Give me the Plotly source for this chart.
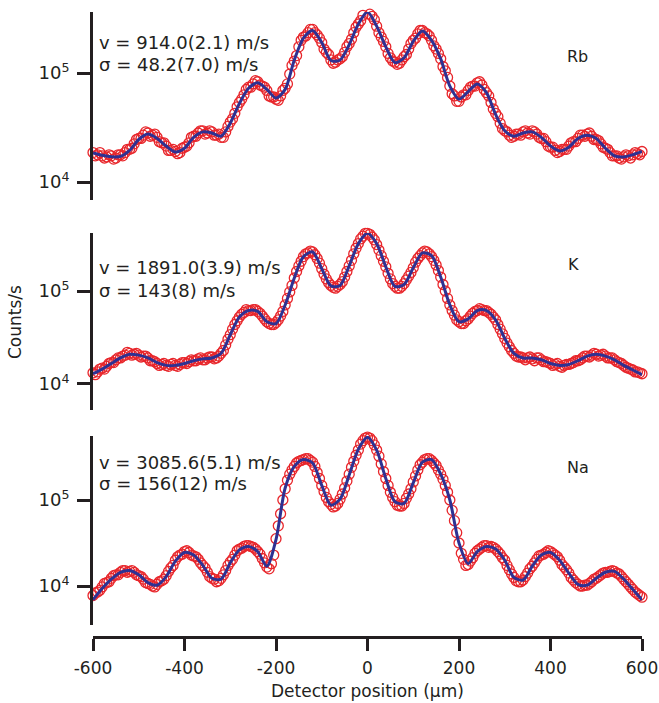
import plotly.graph_objects as go

# ---------------- data ----------------
x_data = list(range(-600, 601, 10))      # scan 1 positions (um)
x_data2 = list(range(-595, 596, 10))     # scan 2 positions (um)
x_fit = list(range(-600, 601, 20))       # fit curve positions (um)

rb_data = [18620, 17780, 17380, 16980, 17380, 16600, 17780, 18620, 19950, 22390,
           25120, 26920, 28180, 26920, 25700, 22910, 21380, 19500, 19050, 18620,
           20890, 22910, 26300, 28180, 29510, 28180, 28840, 26920, 25700, 28840,
           35480, 42660, 53700, 63100, 74130, 79430, 83180, 75860, 69180, 60260,
           57540, 61660, 72440, 97720, 128800, 173800, 213800, 234400, 251200, 223900,
           190500, 154900, 131800, 125900, 134900, 154900, 186200, 234400, 281800, 338800,
           363100, 331100, 269200, 213800, 173800, 138000, 125900, 123000, 141300, 166000,
           199500, 229100, 245500, 229100, 199500, 166000, 134900, 104700, 75860, 61660,
           54950, 63100, 69180, 75860, 81280, 77620, 66070, 53700, 42660, 34670,
           29510, 26920, 26300, 27540, 28840, 28180, 29510, 27540, 25120, 23440,
           20890, 19500, 19050, 19950, 21380, 23440, 25120, 26920, 27540, 26300,
           24550, 22390, 20420, 18620, 17380, 16600, 16980, 17380, 17780, 18200, 19050]
rb_data2 = [17380, 18620, 16600, 17780, 16220, 17780, 17380, 19950, 20420, 24550,
            25120, 28840, 26300, 27540, 23440, 22910, 19500, 19950, 18200, 20420,
            21380, 25700, 26300, 29510, 27540, 29510, 26920, 27540, 25700, 32360,
            38020, 48980, 57540, 70790, 74130, 85110, 77620, 74130, 61660, 60260,
            56230, 69180, 79430, 117500, 144500, 199500, 218800, 251200, 234400, 208900,
            166000, 147900, 123000, 131800, 141300, 173800, 204200, 263000, 302000, 363100,
            346700, 309000, 234400, 195000, 151400, 128800, 120200, 131800, 147900, 186200,
            208900, 245500, 234400, 218800, 177800, 151400, 114800, 91200, 64570, 54950,
            60260, 63100, 74130, 75860, 83180, 70790, 61660, 46770, 39810, 30900,
            28840, 25700, 27540, 26920, 29510, 27540, 28840, 25700, 25120, 21380,
            20890, 18620, 19950, 19950, 22910, 23440, 26920, 26300, 28180, 24550,
            23990, 20890, 19950, 17380, 17380, 16220, 17780, 16600, 18620, 17780]
rb_fit = [18450, 17580, 17060, 17180, 19500, 24550, 27540, 25120, 21380, 18840,
          20420, 25700, 28840, 28180, 26300, 34670, 52480, 72440, 81280, 70790,
          58880, 70790, 131800, 208900, 245500, 190500, 130300, 131800, 182000, 281800,
          363100, 269200, 173800, 124500, 138000, 195000, 242700, 199500, 134900, 75860,
          57540, 67610, 79430, 66070, 41690, 29510, 26300, 28180, 28840, 25700,
          21380, 19280, 20890, 25120, 26920, 25120, 20420, 17380, 16980, 17780, 19050]

k_data = [13180, 13490, 14790, 15490, 16980, 18200, 19050, 20420, 21380, 20890,
          20420, 19950, 19050, 17780, 16600, 16220, 15850, 16220, 15850, 16220,
          16980, 17380, 17780, 18620, 18200, 19050, 19500, 19050, 21380, 26300,
          33880, 43650, 52480, 58880, 61660, 63100, 60260, 53700, 46770, 43650,
          45710, 53700, 70790, 97720, 138000, 186200, 234400, 257000, 263000, 223900,
          173800, 134900, 114800, 107200, 117500, 141300, 186200, 251200, 323600, 389000,
          416900, 380200, 316200, 239900, 182000, 134900, 112200, 107200, 120200, 144500,
          177800, 223900, 257000, 263000, 234400, 190500, 141300, 100000, 70790, 54950,
          46770, 44670, 50120, 57540, 61660, 63100, 61660, 56230, 48980, 38900,
          30900, 25120, 21380, 19500, 19050, 19050, 18620, 19050, 18200, 17380,
          16600, 16220, 15490, 15850, 16220, 16980, 17780, 19050, 19950, 20420,
          20890, 20420, 19950, 19050, 18200, 16980, 15850, 14790, 14130, 13490, 12880]
k_data2 = [12590, 14450, 14450, 16600, 16980, 19050, 19950, 21880, 20420, 21380,
           19500, 19950, 17780, 17380, 15850, 16600, 15490, 16600, 15490, 16980,
           16600, 18200, 17780, 19050, 18200, 19500, 18620, 19950, 22910, 30200,
           38900, 47860, 56230, 63100, 61660, 63100, 57540, 50120, 44670, 43650,
           48980, 60260, 83180, 114800, 162200, 208900, 251200, 269200, 245500, 199500,
           151400, 123000, 109600, 112200, 125900, 162200, 213800, 288400, 363100, 416900,
           407400, 354800, 275400, 208900, 154900, 120200, 107200, 112200, 131800, 158500,
           204200, 239900, 269200, 251200, 213800, 166000, 117500, 83180, 61660, 48980,
           44670, 47860, 53700, 60260, 64570, 61660, 58880, 52480, 43650, 34670,
           27540, 22910, 19950, 19500, 18200, 19500, 17780, 19050, 17380, 16980,
           15850, 16600, 15140, 16220, 16600, 17780, 18200, 19950, 19500, 21380,
           19950, 20890, 19050, 19050, 17380, 16600, 15140, 14450, 13490, 13180]
k_fit = [12880, 14450, 16600, 19050, 20890, 20420, 19050, 16980, 15850, 15850,
         16600, 17780, 18620, 19050, 21380, 33880, 52480, 61660, 60260, 46770,
         44670, 70790, 138000, 234400, 263000, 173800, 113500, 114800, 186200, 323600,
         416900, 323600, 182000, 112200, 117500, 177800, 257000, 239900, 141300, 70790,
         46770, 50120, 61660, 61660, 48980, 30900, 21380, 19050, 19050, 18200,
         16600, 15850, 16220, 17780, 19950, 20890, 19950, 18200, 15850, 14130, 12590]

na_data = [7762, 8511, 9772, 10960, 12300, 13490, 14450, 15140, 14790, 14450,
           13180, 12020, 10720, 10000, 10470, 11480, 13180, 16220, 19950, 22910,
           25120, 24550, 22390, 20420, 17380, 14450, 12300, 11220, 12300, 15140,
           19050, 22910, 26920, 28840, 29510, 28180, 25120, 20890, 16600, 18200,
           35480, 69180, 134900, 199500, 245500, 281800, 295100, 302000, 275400, 208900,
           147900, 107200, 89130, 85110, 102300, 138000, 199500, 281800, 380200, 489800,
           537000, 489800, 380200, 263000, 177800, 123000, 95500, 85110, 91200, 117500,
           162200, 223900, 275400, 302000, 288400, 251200, 199500, 147900, 100000, 57540,
           31620, 20420, 17780, 21380, 25700, 28180, 29510, 28840, 26920, 23440,
           19950, 15490, 12590, 11220, 11750, 14130, 16980, 20420, 22910, 24550,
           25120, 22910, 19950, 16600, 14130, 11750, 10470, 10000, 10230, 11220,
           12300, 13490, 14450, 14790, 14790, 13800, 12020, 10470, 9120, 8128, 7413]
na_data2 = [8318, 8913, 10720, 11220, 13180, 13490, 15140, 14450, 15140, 13490,
            12880, 10960, 10470, 9772, 11220, 12020, 14790, 17380, 21880, 23440,
            25700, 22910, 21880, 18620, 16220, 12880, 12020, 11480, 13490, 17380,
            20420, 25700, 27540, 29510, 28840, 26920, 23440, 18620, 15850, 22910,
            50120, 100000, 169800, 223900, 269200, 288400, 302000, 288400, 245500, 177800,
            125900, 95500, 83180, 91200, 117500, 166000, 239900, 331100, 446700, 524800,
            524800, 436500, 323600, 213800, 147900, 107200, 87100, 85110, 104700, 134900,
            190500, 257000, 295100, 302000, 269200, 223900, 173800, 123000, 75860, 41690,
            23990, 17380, 19500, 23990, 26920, 29510, 28180, 28180, 25120, 21380,
            17380, 13800, 11480, 11220, 12880, 15850, 18620, 22390, 23440, 25700,
            23990, 21880, 17780, 15490, 12590, 10960, 10000, 10230, 10720, 12020,
            12880, 14130, 14450, 15140, 14130, 12880, 11220, 9772, 8511, 7762]
na_fit = [6918, 9333, 12020, 14450, 15140, 13490, 10960, 10230, 12880, 19500,
          24550, 22910, 17380, 12300, 12020, 18620, 26300, 28840, 25120, 16980,
          34670, 138000, 245500, 295100, 269200, 147900, 87100, 102300, 195000, 389000,
          537000, 380200, 177800, 95500, 91200, 158500, 275400, 295100, 199500, 100000,
          31620, 18200, 25120, 28840, 26920, 19950, 12590, 11750, 16980, 22910,
          24550, 19950, 14130, 10470, 10230, 12300, 14450, 14790, 12020, 9120, 6918]

species = ["Rb", "K", "Na"]
v_labels = ["v = 914.0(2.1) m/s", "v = 1891.0(3.9) m/s", "v = 3085.6(5.1) m/s"]
s_labels = ["\u03c3 = 48.2(7.0) m/s", "\u03c3 = 143(8) m/s", "\u03c3 = 156(12) m/s"]
x_ticks = [-600, -400, -200, 0, 200, 400, 600]
y_ticks = [1e4, 1e5]
y_ticktext = ["10<sup>4</sup>", "10<sup>5</sup>"]

# ---------------- style ----------------
RED = "#e8262b"
BLUE = "#2e3192"
INK = "#231f20"
FONT = "DejaVu Sans"

W, H = 659, 703
ML, MR, MT, MB = 93, 17, 12, 66
PH = H - MT - MB


def py(px):
    return (H - MB - px) / PH


def pxx(px):
    return (px - ML) / (W - ML - MR)


domains = [[py(200), py(12)], [py(410), py(233)], [py(625), py(436)]]
yranges = [[3.835, 5.56], [3.72, 5.624], [3.547, 5.744]]

fig = go.Figure()
datasets = [(rb_data, rb_data2, rb_fit), (k_data, k_data2, k_fit), (na_data, na_data2, na_fit)]
marker = dict(symbol="circle-open", size=10, color=RED, line=dict(width=1.3, color=RED))
for i, (d, d2, f) in enumerate(datasets):
    n = "" if i == 0 else str(i + 1)
    fig.add_trace(go.Scatter(x=x_data, y=d, mode="markers", xaxis="x" + n, yaxis="y" + n,
                             marker=marker, cliponaxis=False, showlegend=False))
    fig.add_trace(go.Scatter(x=x_data2, y=d2, mode="markers", xaxis="x" + n, yaxis="y" + n,
                             marker=marker, cliponaxis=False, showlegend=False))
    fig.add_trace(go.Scatter(x=x_fit, y=f, mode="lines", xaxis="x" + n, yaxis="y" + n,
                             line=dict(color=BLUE, width=3, shape="spline", smoothing=0.8),
                             cliponaxis=False, showlegend=False))

layout = dict(width=W, height=H, margin=dict(l=ML, r=MR, t=MT, b=MB, autoexpand=False),
              paper_bgcolor="white", plot_bgcolor="white",
              font=dict(family=FONT, size=17, color=INK))

for i in range(3):
    n = "" if i == 0 else str(i + 1)
    layout["yaxis" + n] = dict(type="log", domain=domains[i], range=yranges[i],
                               anchor="x" + n, showline=True, linewidth=3, linecolor=INK,
                               ticks="outside", ticklen=13, tickwidth=3, tickcolor=INK,
                               tickvals=y_ticks, ticktext=y_ticktext, showgrid=False,
                               zeroline=False, automargin=False, ticklabelstandoff=4,
                               tickfont=dict(family=FONT, size=18, color=INK))
    if i < 2:
        layout["xaxis" + n] = dict(range=[-600, 600], anchor="y" + n, visible=False,
                                   showgrid=False, zeroline=False, automargin=False)
    else:
        layout["xaxis" + n] = dict(range=[-600, 600], anchor="free", position=0,
                                   showline=True, linewidth=3, linecolor=INK,
                                   ticks="outside", ticklen=12, tickwidth=3, tickcolor=INK,
                                   tickvals=x_ticks, ticktext=[str(t) for t in x_ticks],
                                   showgrid=False, zeroline=False, automargin=False,
                                   ticklabelstandoff=3,
                                   tickfont=dict(family=FONT, size=17, color=INK))

ann = []
line1_y = [42, 267, 462]
line2_y = [64, 290, 483]
lab_pos = [(577, 57), (573, 264), (578, 467)]
for i in range(3):
    ann.append(dict(text=v_labels[i], x=pxx(97), y=py(line1_y[i]), xref="paper", yref="paper",
                    xanchor="left", yanchor="middle", showarrow=False,
                    font=dict(family=FONT, size=18, color=INK)))
    ann.append(dict(text=s_labels[i], x=pxx(97), y=py(line2_y[i]), xref="paper", yref="paper",
                    xanchor="left", yanchor="middle", showarrow=False,
                    font=dict(family=FONT, size=18, color=INK)))
    ann.append(dict(text=species[i], x=pxx(lab_pos[i][0]), y=py(lab_pos[i][1]), xref="paper",
                    yref="paper", xanchor="center", yanchor="middle", showarrow=False,
                    font=dict(family=FONT, size=16, color=INK)))
ann.append(dict(text="Counts/s", x=pxx(15), y=py(322), xref="paper", yref="paper",
                xanchor="center", yanchor="middle", textangle=-90, showarrow=False,
                font=dict(family=FONT, size=17, color=INK)))
ann.append(dict(text="Detector position (\u03bcm)", x=pxx(367), y=py(691), xref="paper",
                yref="paper", xanchor="center", yanchor="middle", showarrow=False,
                font=dict(family=FONT, size=17, color=INK)))
layout["annotations"] = ann

fig.update_layout(**layout)
fig.write_html("out.html")
